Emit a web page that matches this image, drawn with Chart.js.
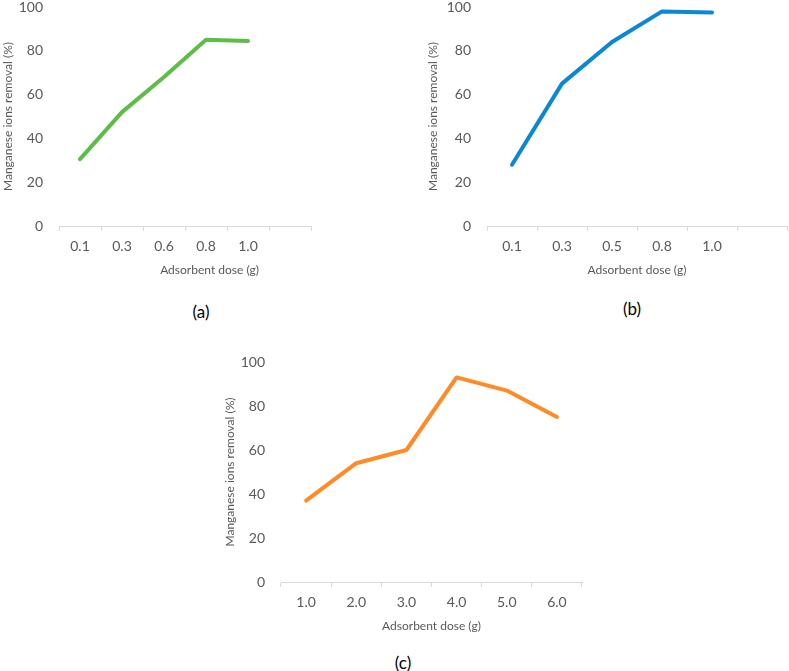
<!DOCTYPE html>
<html>
<head>
<meta charset="utf-8">
<script src="https://cdn.jsdelivr.net/npm/chart.js@4.4.1/dist/chart.umd.min.js"></script>
<style>
  html, body { margin: 0; padding: 0; background: #ffffff; }
  body { width: 789px; height: 671px; position: relative; overflow: hidden; font-family: Lato, "Open Sans", sans-serif; }
  .box { position: absolute; }
  .cap { position: absolute; font-family: Lato, sans-serif; font-size: 17px; color: #000; transform: translate(-50%, -50%); white-space: nowrap; }
</style>
</head>
<body>
<div class="box" id="boxA" style="left:0px;top:-6px;width:320px;height:287px;"><canvas id="chartA"></canvas></div>
<div class="box" id="boxB" style="left:425px;top:-6px;width:364px;height:287px;"><canvas id="chartB"></canvas></div>
<div class="box" id="boxC" style="left:222px;top:349px;width:370px;height:288px;"><canvas id="chartC"></canvas></div>
<div class="cap" style="left:201px;top:311px;">(a)</div>
<div class="cap" style="left:632px;top:308px;">(b)</div>
<div class="cap" style="left:403px;top:662px;">(c)</div>
<script>
// ---- Data ----
const dosesA = ['0.1', '0.3', '0.6', '0.8', '1.0', ''];
const removalA = [30.5, 52, 68, 85, 84.5, null];

const dosesB = ['0.1', '0.3', '0.5', '0.8', '1.0', ''];
const removalB = [28, 65, 84, 98, 97.5, null];

const dosesC = ['1.0', '2.0', '3.0', '4.0', '5.0', '6.0'];
const removalC = [37, 54, 60, 93, 87, 75];

const yTicks = [0, 20, 40, 60, 80, 100];
const xTitle = 'Adsorbent dose (g)';
const yTitle = 'Manganese ions removal (%)';

// ---- Chart builder ----
const GREY = '#595959';
const AXIS = '#d9d9d9';

function makeChart(id, labels, values, color, yWidth, padRight, xTitleText) {
  return new Chart(document.getElementById(id), {
    type: 'line',
    data: {
      labels: labels,
      datasets: [{
        data: values,
        borderColor: color,
        backgroundColor: color,
        borderWidth: 4,
        pointRadius: 0,
        pointHoverRadius: 0,
        tension: 0,
        borderCapStyle: 'round',
        borderJoinStyle: 'round',
        spanGaps: false
      }]
    },
    options: {
      responsive: true,
      maintainAspectRatio: false,
      animation: false,
      devicePixelRatio: 1,
      layout: { padding: { top: 13, right: padRight, bottom: 0, left: 0 } },
      plugins: { legend: { display: false }, tooltip: { enabled: false }, title: { display: false } },
      scales: {
        x: {
          type: 'category',
          offset: true,
          grid: {
            display: true,
            offset: true,
            drawOnChartArea: false,
            drawTicks: true,
            tickLength: 5,
            color: AXIS,
            lineWidth: 1
          },
          border: { display: true, color: AXIS, width: 1 },
          ticks: {
            color: GREY,
            font: { family: 'Lato', size: 14 },
            padding: 7,
            maxRotation: 0,
            autoSkip: false
          },
          title: {
            display: true,
            text: xTitleText,
            color: GREY,
            font: { family: 'Lato', size: 12 },
            padding: { top: 0, bottom: 4 }
          },
          afterFit: function (s) { s.height = 55; s.paddingLeft = 0; s.paddingRight = 0; }
        },
        y: {
          min: 0,
          max: 100,
          afterBuildTicks: function (s) { s.ticks = yTicks.map(v => ({ value: v })); },
          grid: { display: false, drawTicks: false },
          border: { display: false },
          ticks: {
            color: GREY,
            font: { family: 'Lato', size: 14 },
            padding: 16
          },
          title: {
            display: true,
            text: yTitle,
            color: GREY,
            font: { family: 'Lato', size: 12 },
            padding: { top: 1, bottom: 0 }
          },
          afterFit: function (s) { s.width = yWidth; s.paddingTop = 0; s.paddingBottom = 0; }
        }
      }
    }
  });
}

// In (a) the axis title sits right of the plot centre; shift with leading spaces.
function shiftedTitle(text, shiftPx) {
  const c = document.createElement('canvas').getContext('2d');
  c.font = '12px Lato';
  const sw = c.measureText(' ').width || 3;
  const n = Math.max(0, Math.round((2 * shiftPx) / sw));
  return ' '.repeat(n) + text;
}

makeChart('chartA', dosesA, removalA, '#5cbd47', 59, 9, shiftedTitle(xTitle, 24));
makeChart('chartB', dosesB, removalB, '#0a88d4', 62, 2, xTitle);
makeChart('chartC', dosesC, removalC, '#ff8a26', 59, 10, xTitle);
</script>
</body>
</html>
